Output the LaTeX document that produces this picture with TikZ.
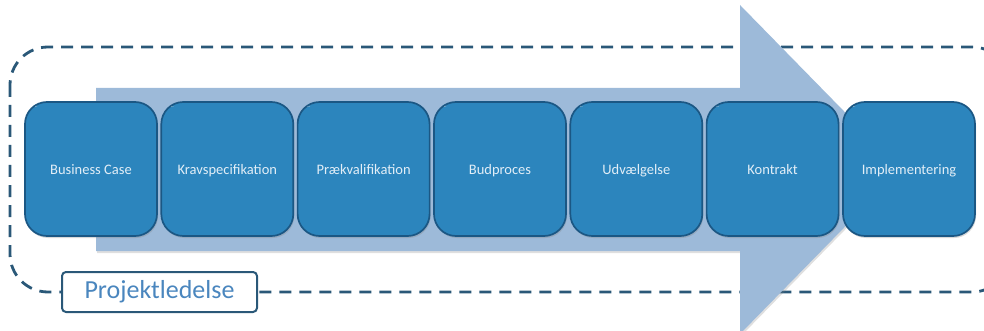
\documentclass[tikz,border=0pt]{standalone}
\usepackage{fontspec}
\setmainfont{Carlito}
\usetikzlibrary{shadows}
\definecolor{stepfill}{HTML}{2C85BD}
\definecolor{stepedge}{HTML}{1B5784}
\definecolor{steptext}{HTML}{E2EEF7}
\definecolor{arrowfill}{HTML}{9DBAD9}
\definecolor{dashcol}{HTML}{2A5878}
\definecolor{labeltext}{HTML}{4A86BE}
\begin{document}
\begin{tikzpicture}[x=1pt,y=-1pt,
  stepbox/.style={draw=stepedge, line width=1.7pt, fill=stepfill, rounded corners=22pt,
    minimum width=132pt, minimum height=134pt, text=steptext, font=\fontsize{14.5}{16}\selectfont,
    text height=12pt, text depth=0pt,
    inner sep=0pt, drop shadow={shadow xshift=1pt, shadow yshift=-2pt, opacity=0.3},
    path picture={
      % small glossy glint in the upper left corner
      \fill[white, opacity=0.85]
        ([xshift=9pt,yshift=-5pt]path picture bounding box.north west)
        .. controls ([xshift=14pt,yshift=-2.5pt]path picture bounding box.north west)
        .. ([xshift=22pt,yshift=-3pt]path picture bounding box.north west)
        .. controls ([xshift=15pt,yshift=-4pt]path picture bounding box.north west)
        .. ([xshift=9pt,yshift=-5pt]path picture bounding box.north west);
    }},
  framebox/.style={draw=dashcol, line width=2.8pt, dash pattern=on 12pt off 8pt, rounded corners=38pt},
  labelbox/.style={draw=dashcol, line width=2pt, fill=white, rounded corners=4pt,
    minimum width=195pt, minimum height=40pt, inner sep=0pt, text=labeltext,
    font=\fontsize{26}{29}\selectfont}]
  \useasboundingbox (0,0) rectangle (984,331);
  \begin{scope}
    \clip (0,0) rectangle (984,331);
    % dashed frame around the whole process
    \draw[framebox] (10,47) rectangle (1010,292);
    % big process arrow behind the steps
    \fill[arrowfill, drop shadow={shadow xshift=1pt, shadow yshift=-2pt, opacity=0.25}]
      (96,88) -- (740,88) -- (740,5) -- (901,169.5) -- (740,334) -- (740,251) -- (96,251) -- cycle;
  \end{scope}
  % process steps
  \node[stepbox] (s1) at (91,169) {Business Case};
  \node[stepbox] (s2) at (227.3,169) {Kravspecifikation};
  \node[stepbox] (s3) at (363.6,169) {Prækvalifikation};
  \node[stepbox] (s4) at (500,169) {Budproces};
  \node[stepbox] (s5) at (636.3,169) {Udvælgelse};
  \node[stepbox] (s6) at (772.6,169) {Kontrakt};
  \node[stepbox] (s7) at (909,169) {Implementering};
  % frame label
  \node[labelbox] (pl) at (159.5,292) {Projektledelse};
\end{tikzpicture}
\end{document}
